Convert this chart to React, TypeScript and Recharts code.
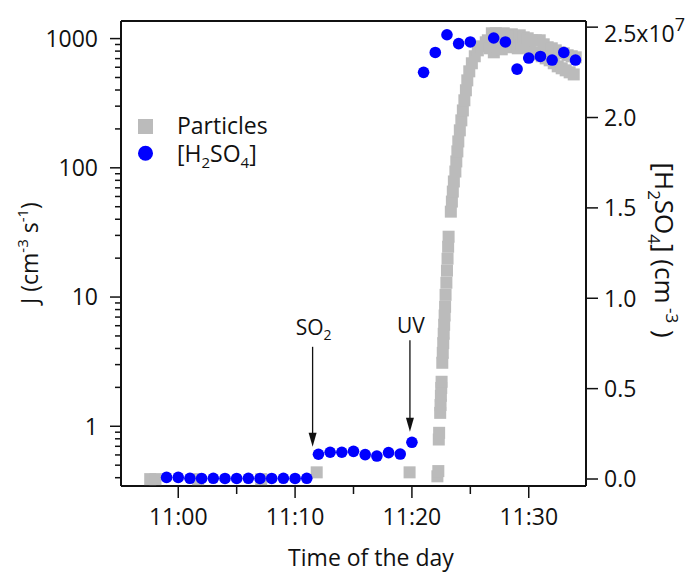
import React from "react";
import { ScatterChart, Scatter, XAxis, YAxis, ReferenceLine, Customized } from "recharts";

const FONT = "'Open Sans', sans-serif";
const INK = "#111111";
const GREY = "#bbbbbb";
const BLUE = "#0000ff";

// time in minutes after 11:00
const PARTICLE_MIN = [
  -2.4, -1.95, 1.7, 7.1, 11.85, 19.8,
  22.18, 22.26, 22.3, 22.33,
  22.42, 22.45, 22.48, 22.51, 22.54,
  22.6, 22.64, 22.68, 22.72, 22.76, 22.8, 22.84, 22.88,
  22.95, 23.0, 23.05, 23.1, 23.14,
  23.33, 23.42, 23.5, 23.59, 23.72, 23.8, 23.89, 23.97,
  24.1, 24.23, 24.36, 24.49, 24.62, 24.74, 24.91, 25.13, 25.38, 25.64, 25.98, 26.32,
  26.5, 26.67, 26.84, 27.01, 27.18, 27.35, 27.52, 27.69, 27.86, 28.03,
  28.21, 28.38, 28.55, 28.72, 28.89, 29.06, 29.23, 29.4, 29.57, 29.74,
  29.91, 30.09, 30.26, 30.43, 30.6, 30.77, 30.94, 31.11, 31.28, 31.45,
  31.62, 31.79, 31.97, 32.14, 32.31, 32.48, 32.65, 32.82, 32.99, 33.16,
  33.33, 33.5, 33.68, 33.85, 34.02,
];
const PARTICLE_J = [
  0.39, 0.39, 0.39, 0.39, 0.44, 0.44,
  0.41, 0.45, 0.79, 0.89,
  1.27, 1.46, 1.72, 1.98, 2.21,
  3.1, 3.7, 4.4, 5.2, 6.1, 7.2, 8.4, 10.4,
  12.9, 16.0, 19.8, 24.5, 29.3,
  45.8, 54.8, 65.5, 78.4, 93.6, 112, 134, 160,
  195, 233, 278, 333, 398, 475, 558, 644, 730, 811, 871, 936,
  970, 841, 1099, 783, 1099, 871, 1079, 826, 1099, 903,
  1060, 857, 1079, 887, 1042, 841, 1060, 903, 1023, 857,
  1005, 826, 970, 783, 970, 755, 970, 730, 903, 703,
  857, 679, 841, 644, 811, 610, 783, 589, 769, 568,
  743, 548, 730, 528, 716,
];

const ACID_MIN = [
  -1, 0, 1, 2, 3, 4, 5, 6, 7, 8, 9, 10, 11,
  12, 13, 14, 15, 16, 17, 18, 19, 20,
  21, 22, 23, 24, 25,
  27, 28, 29, 30, 31, 32, 33, 34,
];
const ACID_CONC = [
  9e4, 9e4, 4e4, 3e4, 4e4, 3e4, 3e4, 4e4, 3e4, 3e4, 4e4, 3e4, 4e4,
  1.37e6, 1.48e6, 1.48e6, 1.53e6, 1.35e6, 1.27e6, 1.46e6, 1.38e6, 2.03e6,
  2.25e7, 2.36e7, 2.458e7, 2.409e7, 2.418e7,
  2.44e7, 2.418e7, 2.268e7, 2.329e7, 2.338e7, 2.318e7, 2.36e7, 2.318e7,
];

const TIME_TICKS = [0, 5, 10, 15, 20, 25, 30];
const TIME_LABELS: Record<number, string> = { 0: "11:00", 10: "11:10", 20: "11:20", 30: "11:30" };
const J_TICKS = [
  0.4, 0.5, 0.6, 0.7, 0.8, 0.9, 1,
  2, 3, 4, 5, 6, 7, 8, 9, 10,
  20, 30, 40, 50, 60, 70, 80, 90, 100,
  200, 300, 400, 500, 600, 700, 800, 900, 1000,
];
const J_MAJOR = [1, 10, 100, 1000];
const ACID_TICKS = [0, 5e6, 1e7, 1.5e7, 2e7, 2.5e7];
const ACID_LABELS = ["0.0", "0.5", "1.0", "1.5", "2.0", "2.5x10"];

const particles = PARTICLE_MIN.map((t, i) => ({ t, v: PARTICLE_J[i] }));
const acid = ACID_MIN.map((t, i) => ({ t, v: ACID_CONC[i] }));

const txt = { fontFamily: FONT, fontSize: 23, fill: INK };

function TimeTick({ x, y, payload, top }: any) {
  const major = payload.value % 10 === 0;
  const len = major ? 12 : 8;
  const dir = top ? -1 : 1;
  return (
    <g>
      <line x1={x} x2={x} y1={y} y2={y + dir * len} stroke={INK} strokeWidth={1.5} />
      {!top && major && (
        <text x={x} y={y + 39} textAnchor="middle" {...txt}>
          {TIME_LABELS[payload.value]}
        </text>
      )}
    </g>
  );
}

function JTick({ x, y, payload }: any) {
  const major = J_MAJOR.includes(payload.value);
  return (
    <g>
      <line x1={x} x2={x - (major ? 11 : 6)} y1={y} y2={y} stroke={INK} strokeWidth={1.5} />
      {major && (
        <text x={x - 23} y={y} dy="0.36em" textAnchor="end" {...txt}>
          {payload.value}
        </text>
      )}
    </g>
  );
}

function AcidTick({ x, y, payload }: any) {
  const i = ACID_TICKS.indexOf(payload.value);
  const last = i === ACID_TICKS.length - 1;
  return (
    <g>
      <line x1={x} x2={x + 12} y1={y} y2={y} stroke={INK} strokeWidth={1.5} />
      <text x={x + 18} y={y + (last ? 7 : 0)} dy="0.36em" textAnchor="start" {...txt}>
        {ACID_LABELS[i]}
        {last && (
          <tspan dy={-11} fontSize={18}>
            7
          </tspan>
        )}
      </text>
    </g>
  );
}

function Arrow(props: any) {
  const { x1, y1, x2, y2, name, sub, gap } = props;
  return (
    <g>
      <line x1={x1} y1={y1} x2={x2} y2={y2 - 12} stroke={INK} strokeWidth={1.3} />
      <polygon points={`${x2 - 4},${y2 - 14} ${x2 + 4},${y2 - 14} ${x2},${y2}`} fill={INK} />
      <text x={x1 + 1} y={y1 - gap} textAnchor="middle" fontFamily={FONT} fontSize={21} fill={INK}>
        {name}
        {sub && (
          <tspan dy={5} fontSize={14}>
            {sub}
          </tspan>
        )}
      </text>
    </g>
  );
}

function Overlay() {
  return (
    <g>
      {/* legend */}
      <rect x={138} y={119} width={15} height={15} fill={GREY} />
      <text x={177} y={134} {...txt}>Particles</text>
      <circle cx={145.5} cy={153.3} r={7.5} fill={BLUE} />
      <text x={177} y={161.7} {...txt}>
        [H<tspan dy={6} fontSize={15}>2</tspan>
        <tspan dy={-6}>SO</tspan>
        <tspan dy={6} fontSize={15}>4</tspan>
        <tspan dy={-6}>]</tspan>
      </text>
      {/* axis titles */}
      <text x={371} y={566} textAnchor="middle" {...txt}>Time of the day</text>
      <text x={38} y={253} transform="rotate(-90 38 253)" textAnchor="middle" {...txt}>
        J (cm<tspan dy={-10} fontSize={15}>-3</tspan>
        <tspan dy={10}> s</tspan>
        <tspan dy={-10} fontSize={15}>-1</tspan>
        <tspan dy={10}>)</tspan>
      </text>
      <text
        x={655}
        y={250}
        transform="rotate(90 655 250)"
        textAnchor="middle"
        fontFamily={FONT}
        fontSize={26}
        fill={INK}
      >
        [H<tspan dy={7} fontSize={17}>2</tspan>
        <tspan dy={-7}>SO</tspan>
        <tspan dy={7} fontSize={17}>4</tspan>
        <tspan dy={-7}>] (cm</tspan>
        <tspan dy={-11} fontSize={17}> -3</tspan>
        <tspan dy={11}> )</tspan>
      </text>
    </g>
  );
}

export default function App() {
  return (
    <div style={{ position: "absolute", left: 0, top: 0, fontFamily: FONT }}>
      <ScatterChart width={685} height={574} margin={{ top: 0, right: 0, bottom: 0, left: 0 }}>
        <XAxis
          dataKey="t"
          type="number"
          domain={[-4.9, 34.9]}
          allowDataOverflow
          ticks={TIME_TICKS}
          interval={0}
          height={88}
          tickSize={0}
          tickMargin={0}
          tickLine={false}
          axisLine={{ stroke: INK, strokeWidth: 2 }}
          tick={<TimeTick />}
        />
        <XAxis
          xAxisId="top"
          orientation="top"
          type="number"
          domain={[-4.9, 34.9]}
          allowDataOverflow
          ticks={TIME_TICKS}
          interval={0}
          height={21}
          tickSize={0}
          tickMargin={0}
          tickLine={false}
          axisLine={{ stroke: INK, strokeWidth: 2 }}
          tick={<TimeTick top />}
        />
        <YAxis
          yAxisId="j"
          scale="log"
          type="number"
          domain={[0.345, 1368]}
          allowDataOverflow
          ticks={J_TICKS}
          interval={0}
          width={121}
          tickSize={0}
          tickMargin={0}
          tickLine={false}
          axisLine={{ stroke: INK, strokeWidth: 2 }}
          tick={<JTick />}
        />
        <YAxis
          yAxisId="acid"
          orientation="right"
          type="number"
          domain={[-3.87e5, 2.534e7]}
          allowDataOverflow
          ticks={ACID_TICKS}
          interval={0}
          width={99}
          tickSize={0}
          tickMargin={0}
          tickLine={false}
          axisLine={{ stroke: INK, strokeWidth: 2 }}
          tick={<AcidTick />}
        />
        <Scatter
          name="Particles"
          data={particles}
          dataKey="v"
          yAxisId="j"
          isAnimationActive={false}
          shape={(p: any) => <rect x={p.cx - 6} y={p.cy - 6} width={12} height={12} fill={GREY} />}
        />
        <Scatter
          name="[H2SO4]"
          data={acid}
          dataKey="v"
          yAxisId="acid"
          isAnimationActive={false}
          shape={(p: any) => <circle cx={p.cx} cy={p.cy} r={5.8} fill={BLUE} />}
        />
        <ReferenceLine
          yAxisId="j"
          segment={[{ x: 11.5, y: 4.12 }, { x: 11.5, y: 0.694 }]}
          ifOverflow="visible"
          shape={(p: any) => <Arrow {...p} name="SO" sub="2" gap={12} />}
        />
        <ReferenceLine
          yAxisId="j"
          segment={[{ x: 19.83, y: 4.64 }, { x: 19.83, y: 0.907 }]}
          ifOverflow="visible"
          shape={(p: any) => <Arrow {...p} name="UV" gap={7} />}
        />
        <Customized component={Overlay} />
      </ScatterChart>
    </div>
  );
}
